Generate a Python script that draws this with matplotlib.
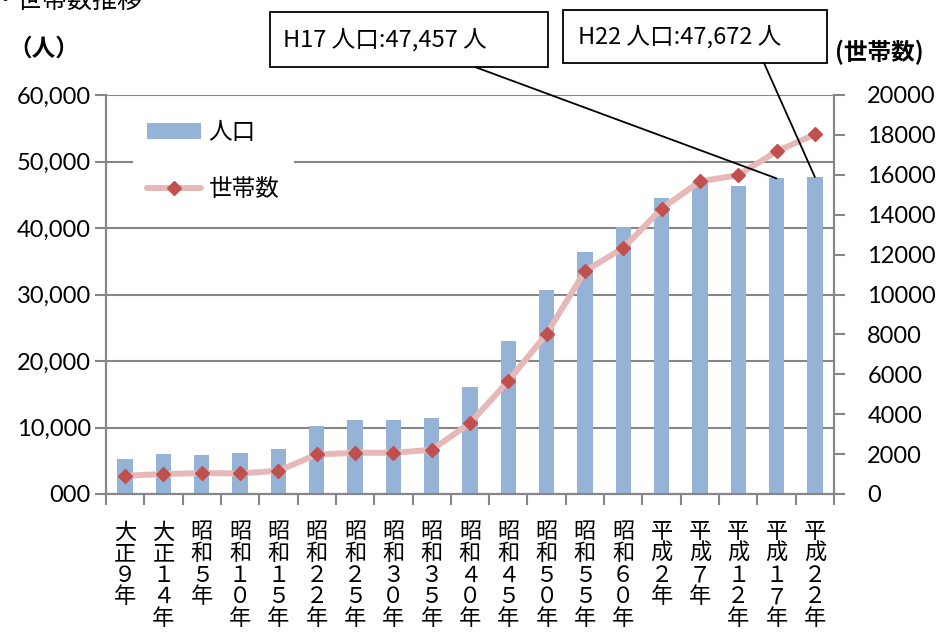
import matplotlib
matplotlib.use("Agg")
import matplotlib.pyplot as plt
from matplotlib.patches import Rectangle

plt.rcParams["font.family"] = ["Noto Sans CJK JP", "DejaVu Sans"]

# 年次（縦書き）
years = ["大正９年", "大正１４年", "昭和５年", "昭和１０年", "昭和１５年",
         "昭和２２年", "昭和２５年", "昭和３０年", "昭和３５年", "昭和４０年",
         "昭和４５年", "昭和５０年", "昭和５５年", "昭和６０年", "平成２年",
         "平成７年", "平成１２年", "平成１７年", "平成２２年"]

# 人口（人）
population = [5250, 5950, 5850, 6100, 6750, 10250, 11100, 11150, 11450, 16150,
              22950, 30700, 36350, 40100, 44450, 46900, 46350, 47457, 47672]

# 世帯数
households = [915, 1000, 1050, 1030, 1165, 1980, 2065, 2065, 2215, 3550,
              5670, 8030, 11170, 12330, 14300, 15670, 15980, 17170, 18030]

left_ticks = [0, 10000, 20000, 30000, 40000, 50000, 60000]
left_labels = ["000", "10,000", "20,000", "30,000", "40,000", "50,000", "60,000"]
right_ticks = list(range(0, 20001, 2000))

callouts = [
    (17, "H17 人口:47,457 人", (270, 565, 278, 55), (283, 592), (475, 565)),
    (18, "H22 人口:47,672 人", (563, 569, 264, 53), (578, 595), (764, 569)),
]

BAR_C = "#95B3D7"
LINE_C = "#E6B9B8"
MARK_C = "#C0504D"
AXIS_C = "#868686"
NUM_FONT = "Lato"

W, H = 939, 632
fig = plt.figure(figsize=(W / 100, H / 100), dpi=100)
ax = fig.add_axes([106 / W, 1 - 494 / H, (834 - 106) / W, (494 - 95) / H])
ax2 = ax.twinx()

x = list(range(len(years)))
bars = ax.bar(x, population, width=0.4, color=BAR_C, zorder=2, label="人口")
line, = ax2.plot(x, households, color=LINE_C, lw=4.3, marker="D", ms=7.6,
                 mfc=MARK_C, mec=MARK_C, label="世帯数", solid_capstyle="round")

ax.set_xlim(-0.5, len(years) - 0.5)
ax.set_ylim(0, 60000)
ax2.set_ylim(0, 20000)

ax.set_yticks(left_ticks)
ax.set_yticklabels(left_labels, fontfamily=NUM_FONT, fontsize=17)
ax2.set_yticks(right_ticks)
ax2.set_yticklabels([str(v) for v in right_ticks], fontfamily=NUM_FONT, fontsize=17)

ax.yaxis.grid(True, color=AXIS_C, lw=1.5, zorder=0)
ax.set_axisbelow(True)

# category labels stacked vertically, ticks on boundaries
ax.set_xticks(x)
ax.set_xticklabels(["\n".join(y) for y in years], fontsize=16, linespacing=0.92,
                   va="top")
ax.tick_params(axis="x", length=0, pad=19)
ax.set_xticks([i - 0.5 for i in range(len(years) + 1)], minor=True)
ax.tick_params(axis="x", which="minor", length=8, width=1.5, color=AXIS_C)
ax.tick_params(axis="y", length=8, width=1.5, color=AXIS_C, pad=3)
ax2.tick_params(axis="y", length=8, width=1.5, color=AXIS_C, pad=16)

for a in (ax, ax2):
    a.spines["top"].set_visible(False)
    for s in ("left", "right", "bottom"):
        a.spines[s].set_color(AXIS_C)
        a.spines[s].set_linewidth(1.5)

leg = ax2.legend(handles=[bars, line], labels=["人口", "世帯数"], loc="upper left",
                 bbox_to_anchor=(0.037, 0.97), frameon=True, fancybox=False,
                 framealpha=1, edgecolor="none", facecolor="white", fontsize=17,
                 handlelength=2.3, handletextpad=0.3, labelspacing=1.45,
                 borderpad=0.6, borderaxespad=0)

# unit labels and heading
fig.text(-8 / W, 1 - 1 / H, "・世帯数推移", fontsize=18, va="center", ha="left")
fig.text(8 / W, 1 - 49 / H, "（人）", fontsize=17, fontweight="bold",
         va="center", ha="left")
fig.text(835 / W, 1 - 52 / H, "(世帯数)", fontsize=17, fontweight="bold",
         va="center", ha="left")

# callout boxes pointing at the latest census bars
for idx, txt, (bx, by, bw, bh), (tx, ty), (sx, sy) in callouts:
    fig.patches.append(Rectangle((bx, by), bw, bh, transform=None, fill=True,
                                 facecolor="white", edgecolor="black", lw=1.3))
    fig.text(tx / W, ty / H, txt, fontsize=17, va="center", ha="left")
    ax2.annotate("", xy=(idx, population[idx]), xycoords=ax.transData,
                 xytext=(sx, sy), textcoords="figure pixels",
                 arrowprops=dict(arrowstyle="-", color="black", lw=1.3,
                                 shrinkA=0, shrinkB=0))

fig.savefig("out.png", dpi=100)
